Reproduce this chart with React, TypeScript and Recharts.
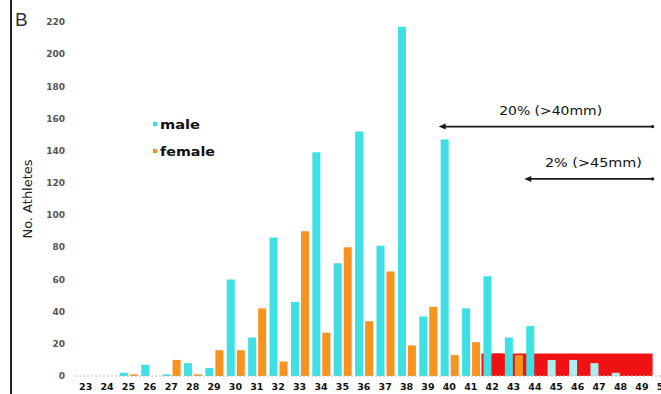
import { BarChart, Bar, XAxis, YAxis, Legend, ReferenceArea, ReferenceLine, Cell } from 'recharts';

// aortic root size (mm)
const sizes = [
  '23', '24', '25', '26', '27', '28', '29', '30', '31', '32', '33', '34', '35', '36',
  '37', '38', '39', '40', '41', '42', '43', '44', '45', '46', '47', '48', '49', '50',
];
const male = [0, 0, 2, 7, 1, 8, 5, 60, 24, 86, 46, 139, 70, 152, 81, 217, 37, 147, 42, 62, 24, 31, 10, 10, 8, 2, 0, 0];
const female = [0, 0, 1, 0, 10, 1, 16, 16, 42, 9, 90, 27, 80, 34, 65, 19, 43, 13, 21, 14, 13, 0, 0, 0, 0, 0, 0, 0];
const yTicks = [0, 20, 40, 60, 80, 100, 120, 140, 160, 180, 200, 220];
const seriesNames = ['male', 'female'];

// red band over the large sizes
const bandFrom = '42';
const bandTo = '49';
const bandLevel = 14;
const femaleRed = ['42'];
const malePale = ['45', '46', '47', '48'];

// arrows
const arrowLabels = ['20% (>40mm)', '2% (>45mm)'];
const arrowFrom = ['40', '44'];
const arrowTo = ['50', '50'];
const arrowLevel = [155, 122.5];

const data = sizes.map((s, i) => ({ size: s, male: male[i], female: female[i] }));

const CYAN = '#3fdfe6';
const ORANGE = '#f7931e';
const RED = '#f01212';
const INK = '#1a1a1a';
const labelWidths = [103, 97];
const legendWidths: Record<string, number> = { male: 40, female: 55 };

function LegendBox({ payload }: any) {
  const items = seriesNames
    .map((n) => (payload || []).find((p: any) => p.value === n || p.dataKey === n))
    .filter(Boolean);
  return (
    <svg width={80} height={50}>
      {items.map((p: any, i: number) => (
        <g key={p.value}>
          <rect x={3} y={10 + i * 27} width={4} height={4} fill={p.color} />
          <text
            x={10}
            y={17 + i * 27}
            fontSize={12}
            fontWeight={700}
            fontFamily="DejaVu Sans"
            fill="#111"
            textLength={legendWidths[p.value]}
            lengthAdjust="spacingAndGlyphs"
          >
            {p.value}
          </text>
        </g>
      ))}
    </svg>
  );
}

function arrowShape(label: string, width: number) {
  return (props: any) => {
    const { x1, y1, x2 } = props;
    return (
      <g>
        <line x1={x1 + 5} y1={y1} x2={x2} y2={y1} stroke={INK} strokeWidth={1.6} />
        <polygon points={`${x1},${y1} ${x1 + 7},${y1 - 3} ${x1 + 7},${y1 + 3}`} fill={INK} />
        <circle cx={x2} cy={y1} r={1.7} fill={INK} />
        <text
          x={(x1 + x2) / 2 + 5}
          y={y1 - 12}
          textAnchor="middle"
          fontSize={12}
          fontFamily="DejaVu Sans"
          fill="#111"
          textLength={width}
          lengthAdjust="spacingAndGlyphs"
        >
          {label}
        </text>
      </g>
    );
  };
}

export default function App() {
  return (
    <div
      style={{
        position: 'fixed',
        left: 0,
        top: 0,
        width: 661,
        height: 394,
        overflow: 'hidden',
        background: '#fff',
      }}
    >
      <div style={{ position: 'absolute', left: 10, top: 0, width: 2, height: 394, background: '#222' }} />
      <div
        style={{
          position: 'absolute',
          left: 15,
          top: 10,
          fontSize: 19,
          lineHeight: '19px',
          fontFamily: 'Liberation Sans',
          color: '#333',
        }}
      >
        B
      </div>
      <BarChart
        width={674}
        height={394}
        data={data}
        margin={{ top: 22, right: 0, bottom: 0, left: 0 }}
        barSize={8}
        barGap={2}
        style={{ position: 'absolute', left: 0, top: 0 }}
      >
        <XAxis
          dataKey="size"
          interval={0}
          height={18}
          tickLine={false}
          tickMargin={1}
          axisLine={{ stroke: '#bbb', strokeDasharray: '2 2' }}
          tick={{ fontSize: 9.5, fontWeight: 700, fontFamily: 'DejaVu Sans', fill: '#111' }}
        />
        <YAxis
          width={75}
          domain={[0, 220]}
          ticks={yTicks}
          interval={0}
          axisLine={false}
          tickLine={false}
          tickMargin={4}
          tick={{ fontSize: 9, fontWeight: 700, fontFamily: 'DejaVu Sans', fill: '#555' }}
          label={({ viewBox }: any) => {
            const cx = 27;
            const cy = viewBox.y + viewBox.height / 2;
            return (
              <text
                x={cx}
                y={cy}
                transform={`rotate(-90, ${cx}, ${cy})`}
                textAnchor="middle"
                dominantBaseline="central"
                fontSize={13}
                fontFamily="DejaVu Sans"
                fill="#222"
              >
                No. Athletes
              </text>
            );
          }}
        />
        <ReferenceArea
          x1={bandFrom}
          x2={bandTo}
          y1={0}
          y2={bandLevel}
          fill={RED}
          fillOpacity={1}
          stroke="none"
        />
        <Legend
          layout="vertical"
          align="center"
          verticalAlign="middle"
          wrapperStyle={{ left: 150, top: 112, width: 'auto' }}
          content={<LegendBox />}
        />
        <Bar dataKey="male" name="male" fill={CYAN} isAnimationActive={false}>
          {data.map((d) => (
            <Cell key={d.size} fill={malePale.includes(d.size) ? '#a9eef1' : CYAN} />
          ))}
        </Bar>
        <Bar dataKey="female" name="female" fill={ORANGE} isAnimationActive={false}>
          {data.map((d) => (
            <Cell key={d.size} fill={femaleRed.includes(d.size) ? RED : ORANGE} />
          ))}
        </Bar>
        {arrowLabels.map((label, i) => (
          <ReferenceLine
            key={label}
            position="start"
            ifOverflow="visible"
            segment={[
              { x: arrowFrom[i], y: arrowLevel[i] },
              { x: arrowTo[i], y: arrowLevel[i] },
            ]}
            shape={arrowShape(label, labelWidths[i])}
          />
        ))}
      </BarChart>
    </div>
  );
}
